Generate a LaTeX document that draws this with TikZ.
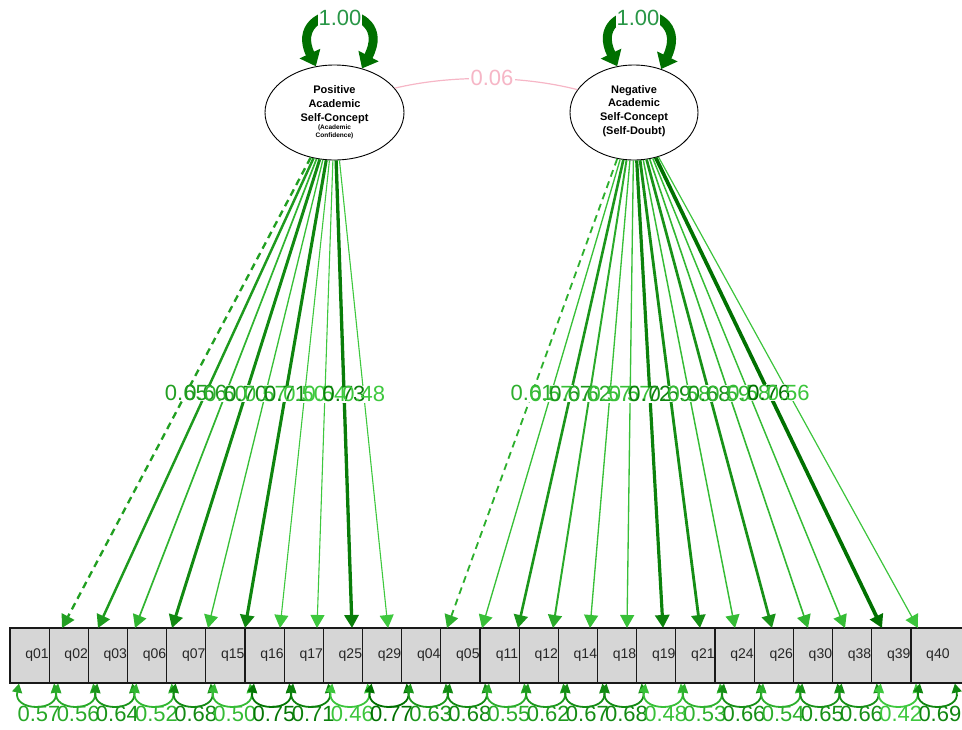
\documentclass[tikz,border=0pt]{standalone}
\usepackage{fontspec}
\setmainfont{Liberation Sans}
\usetikzlibrary{arrows.meta,shapes.geometric}
\definecolor{dkg}{RGB}{0,112,0}
\definecolor{ltg}{RGB}{62,200,62}
\definecolor{covc}{RGB}{246,182,198}
\definecolor{boxfill}{RGB}{214,214,214}
\definecolor{onec}{RGB}{40,150,70}
\begin{document}
\begin{tikzpicture}[x=1pt,y=-1pt,
  latent/.style={ellipse, draw=black, line width=0.9pt, fill=white, inner sep=0pt},
  ltext/.style={align=center, font=\bfseries\fontsize{11}{13.7}\selectfont, inner sep=0pt},
  stext/.style={align=center, font=\bfseries\fontsize{6.5}{8}\selectfont, inner sep=0pt},
  obs/.style={rectangle, draw=black!90, line width=1.2pt, fill=boxfill, minimum width=54pt, minimum height=55pt, inner sep=0pt},
  obstext/.style={font=\fontsize{14}{14}\selectfont, text=black!85, inner sep=0pt},
  loading/.style={-{Triangle[length=13pt,width=14pt]}},
  dashq/.style={dash pattern=on 7pt off 5pt},
  solidq/.style={},
  lblbg/.style={fill=white, inner sep=0.5pt, font=\fontsize{22}{22}\selectfont},
  lbl/.style={inner sep=0.5pt, font=\fontsize{22}{22}\selectfont},
  resid/.style={{Triangle[length=9pt,width=10pt]}-{Triangle[length=9pt,width=10pt]}, line width=1.8pt},
  selfloop/.style={{Triangle[length=14pt,width=22pt]}-{Triangle[length=14pt,width=22pt]}, line width=9pt, draw=dkg},
  onelbl/.style={fill=white, inner sep=1pt, text=onec, font=\fontsize{22}{22}\selectfont}
]
\useasboundingbox (0,0) rectangle (962,729);

% latent variables
\node[latent, minimum width=139pt, minimum height=95pt] (PASC) at (334.5,112.5) {};
\node[latent, minimum width=128pt, minimum height=95pt] (NASC) at (634,112.5) {};
\node[ltext] (PASCt) at (334.5,104.5) {Positive\\Academic\\Self-Concept};
\node[stext] (PASCs) at (334.5,132) {(Academic\\Confidence)};
\node[ltext] (NASCt) at (634,111) {Negative\\Academic\\Self-Concept\\(Self-Doubt)};

% covariance
\draw[covc, line width=1.2pt] (PASC.22) .. controls (450,75) and (520,75) .. (NASC.158);
\node[lblbg, text=covc, inner sep=1.5pt] (cov) at (492,78) {0.06};

% observed boxes
\foreach \i/\n in {0/q01,1/q02,2/q03,3/q06,4/q07,5/q15,6/q16,7/q17,8/q25,9/q29,10/q04,11/q05,12/q11,13/q12,14/q14,15/q18,16/q19,17/q21,18/q24,19/q26,20/q30,21/q38,22/q39,23/q40}{
  \pgfmathsetmacro\c{37+39.17*\i}
  \node[obs] (\n) at (\c,655.5) {};
}
\foreach \i/\n in {0/q01,1/q02,2/q03,3/q06,4/q07,5/q15,6/q16,7/q17,8/q25,9/q29,10/q04,11/q05,12/q11,13/q12,14/q14,15/q18,16/q19,17/q21,18/q24,19/q26,20/q30,21/q38,22/q39,23/q40}{
  \node[obstext] (l\n) at (\n) {\n};
}

% loadings
\foreach \i/\n/\tip/\lam/\lat in {0/q01/62/0.65/PASC,1/q02/98/0.66/PASC,2/q03/135/0.60/PASC,3/q06/172/0.70/PASC,4/q07/208/0.57/PASC,5/q15/245/0.71/PASC,6/q16/280/0.50/PASC,7/q17/317/0.54/PASC,8/q25/352/0.73/PASC,9/q29/388/0.48/PASC,10/q04/447/0.61/NASC,11/q05/482/0.57/NASC,12/q11/518/0.67/NASC,13/q12/553/0.62/NASC,14/q14/590/0.57/NASC,15/q18/627/0.57/NASC,16/q19/663/0.72/NASC,17/q21/700/0.69/NASC,18/q24/735/0.58/NASC,19/q26/772/0.68/NASC,20/q30/808/0.59/NASC,21/q38/845/0.58/NASC,22/q39/882/0.76/NASC,23/q40/918/0.56/NASC}{
  \pgfmathtruncatemacro\tl{max(0,min(100,(\lam-0.55)/0.21*100))}
  \pgfmathsetmacro\lw{1.1+2.6*\tl/100}
  \ifnum\i=0 \def\dsh{dashq}\else\ifnum\i=10 \def\dsh{dashq}\else\def\dsh{solidq}\fi\fi
  \coordinate (t\n) at (\tip,628);
  \draw[loading, draw=dkg!\tl!ltg, line width=\lw pt, \dsh] (\lat) -- (t\n) coordinate[pos=0.5] (m\n);
}
\foreach \n/\lam in {q01/0.65,q02/0.66,q03/0.60,q06/0.70,q07/0.57,q15/0.71,q16/0.50,q17/0.54,q25/0.73,q29/0.48,q04/0.61,q05/0.57,q11/0.67,q12/0.62,q14/0.57,q18/0.57,q19/0.72,q21/0.69,q24/0.58,q26/0.68,q30/0.59,q38/0.58,q39/0.76,q40/0.56}{
  \node[lblbg] (b\n) at (m\n) {\phantom{\lam}};
}
\foreach \n/\lam in {q01/0.65,q02/0.66,q03/0.60,q06/0.70,q07/0.57,q15/0.71,q16/0.50,q17/0.54,q25/0.73,q29/0.48,q04/0.61,q05/0.57,q11/0.67,q12/0.62,q14/0.57,q18/0.57,q19/0.72,q21/0.69,q24/0.58,q26/0.68,q30/0.59,q38/0.58,q39/0.76,q40/0.56}{
  \pgfmathtruncatemacro\tl{max(0,min(100,(\lam-0.55)/0.21*100))}
  \node[lbl, text=dkg!\tl!ltg] (e\n) at (m\n) {\lam};
}

% residuals
\foreach \i/\n/\res in {0/q01/0.57,1/q02/0.56,2/q03/0.64,3/q06/0.52,4/q07/0.68,5/q15/0.50,6/q16/0.75,7/q17/0.71,8/q25/0.46,9/q29/0.77,10/q04/0.63,11/q05/0.68,12/q11/0.55,13/q12/0.62,14/q14/0.67,15/q18/0.68,16/q19/0.48,17/q21/0.53,18/q24/0.66,19/q26/0.54,20/q30/0.65,21/q38/0.66,22/q39/0.42,23/q40/0.69}{
  \pgfmathsetmacro\c{37+39.17*\i}
  \pgfmathtruncatemacro\tr{max(0,min(100,(\res-0.45)/0.32*100))}
  \draw[resid, draw=dkg!\tr!ltg] ([xshift=-18pt]\n.south) .. controls ({\c-24},712) and ({\c+23},712) .. ([xshift=17pt]\n.south);
}
\foreach \i/\n/\res in {0/q01/0.57,1/q02/0.56,2/q03/0.64,3/q06/0.52,4/q07/0.68,5/q15/0.50,6/q16/0.75,7/q17/0.71,8/q25/0.46,9/q29/0.77,10/q04/0.63,11/q05/0.68,12/q11/0.55,13/q12/0.62,14/q14/0.67,15/q18/0.68,16/q19/0.48,17/q21/0.53,18/q24/0.66,19/q26/0.54,20/q30/0.65,21/q38/0.66,22/q39/0.42,23/q40/0.69}{
  \pgfmathsetmacro\c{39+39.17*\i}
  \pgfmathtruncatemacro\tr{max(0,min(100,(\res-0.45)/0.32*100))}
  \node[lbl, text=dkg!\tr!ltg] (r\n) at (\c,714) {\res};
}

% latent variances
\draw[selfloop] (PASC.112) .. controls (285,0) and (398,0) .. (PASC.58);
\node[onelbl] (vP) at (340,18) {1.00};
\draw[selfloop] (NASC.110) .. controls (585,0) and (695,0) .. (NASC.58);
\node[onelbl] (vN) at (638,18) {1.00};
\end{tikzpicture}
\end{document}
